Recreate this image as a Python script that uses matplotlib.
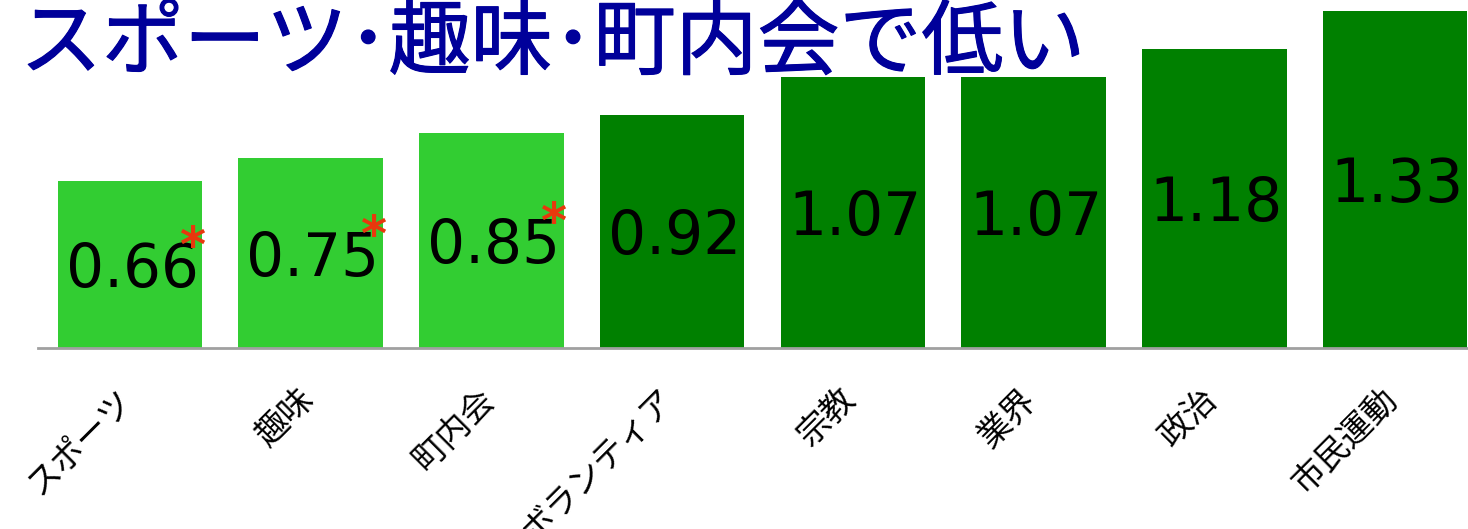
import matplotlib
matplotlib.use("Agg")
import matplotlib.pyplot as plt
import matplotlib.patheffects as pe

plt.rcParams['font.family'] = ['Noto Sans CJK JP', 'DejaVu Sans']

# data
categories = ['スポーツ', '趣味', '町内会', 'ボランティア', '宗教', '業界', '政治', '市民運動']
values = [0.66, 0.75, 0.85, 0.92, 1.07, 1.07, 1.18, 1.33]
significant = [True, True, True, False, False, False, False, False]
title = 'スポーツ･趣味･町内会で低い'

light = '#32cd32'
dark = '#008000'

W, H = 1468, 529
fig = plt.figure(figsize=(W / 100, H / 100), dpi=100)
ax = fig.add_axes([38 / W, (H - 348) / H, 1430 / W, 348 / H])

x = list(range(len(values)))
colors = [light if s else dark for s in significant]
ax.bar(x, values, width=0.8, color=colors, zorder=2)

ax.set_xlim(-0.509, 7.404)
ax.set_ylim(0, 1.375)
for s in ['top', 'right', 'left']:
    ax.spines[s].set_visible(False)
ax.spines['bottom'].set_color('#a0a0a0')
ax.spines['bottom'].set_linewidth(2)
ax.set_yticks([])
ax.set_xticks([])

for i, v in enumerate(values):
    ax.annotate('%.2f' % v, xy=(i, v / 2), xytext=(2, -6),
                textcoords='offset pixels', ha='center', va='center',
                fontsize=43, family='DejaVu Sans', color='black', zorder=3)
    if significant[i]:
        ax.annotate('*', xy=(i, v / 2), xytext=(62, 2),
                    textcoords='offset pixels', ha='center', va='baseline',
                    fontsize=36, fontweight='bold', family='DejaVu Sans',
                    color='#e8380d', zorder=4)

# rotated category labels, top-right corner under the bar centre
for i, c in enumerate(categories):
    ax.annotate(c, xy=(i, 0), xytext=(10, -34), textcoords='offset pixels',
                rotation=45, ha='right', va='top', fontsize=24,
                color='black', annotation_clip=False)

t = fig.text(20 / W, 1 - 2 / H, title, ha='left', va='top', fontsize=59,
             fontweight='normal', color='#00009a')
t.set_path_effects([pe.Stroke(linewidth=0.8, foreground='#00009a'), pe.Normal()])

fig.savefig('out.png', dpi=100)
